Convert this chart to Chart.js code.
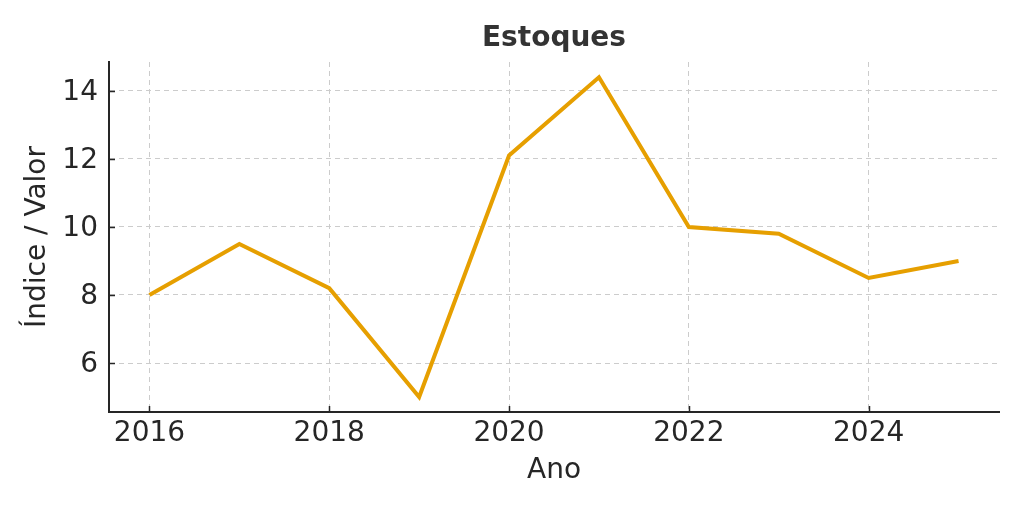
<!DOCTYPE html>
<html>
<head>
<meta charset="utf-8">
<script src="https://cdn.jsdelivr.net/npm/chart.js@4/dist/chart.umd.min.js"></script>
<style>
  html, body { margin: 0; padding: 0; background: #fff; }
  #wrap { width: 1024px; height: 512px; position: relative; }
</style>
</head>
<body>
<div id="wrap"><canvas id="myChart" width="1024" height="512"></canvas></div>
<script>
// Chart data
const chartTitle = 'Estoques';
const years = [2016, 2017, 2018, 2019, 2020, 2021, 2022, 2023, 2024, 2025];
const estoques = [8.0, 9.5, 8.2, 5.0, 12.1, 14.4, 10.0, 9.8, 8.5, 9.0];
const xTicks = [2016, 2018, 2020, 2022, 2024];
const yTicks = [6, 8, 10, 12, 14];

const textColor = '#262626';
const fontFamily = "'DejaVu Sans', 'Noto Sans', sans-serif";

// Title centred over the plot area + inward tick marks (matplotlib look)
const decorPlugin = {
    id: 'decor',
    afterDraw(chart) {
        const c = chart.ctx;
        const area = chart.chartArea;
        const xs = chart.scales.x;
        const ys = chart.scales.y;
        c.save();
        c.strokeStyle = '#262626';
        c.lineWidth = 1.5;
        xs.ticks.forEach(t => {
            const px = Math.round(xs.getPixelForValue(t.value)) + 0.5;
            c.beginPath();
            c.moveTo(px, area.bottom);
            c.lineTo(px, area.bottom - 6);
            c.stroke();
        });
        ys.ticks.forEach(t => {
            const py = Math.round(ys.getPixelForValue(t.value)) + 0.5;
            c.beginPath();
            c.moveTo(area.left, py);
            c.lineTo(area.left + 6, py);
            c.stroke();
        });
        c.fillStyle = '#333333';
        c.font = 'bold 28px ' + fontFamily;
        c.textAlign = 'center';
        c.textBaseline = 'middle';
        c.fillText(chartTitle, (area.left + area.right) / 2, 39);
        c.restore();
    }
};

const ctx = document.getElementById('myChart').getContext('2d');

const myChart = new Chart(ctx, {
    type: 'line',
    data: {
        datasets: [{
            label: chartTitle,
            data: years.map((y, i) => ({ x: y, y: estoques[i] })),
            borderColor: '#E69F00',
            borderWidth: 4,
            pointRadius: 0,
            fill: false,
            tension: 0
        }]
    },
    options: {
        responsive: false,
        animation: false,
        layout: { padding: { top: 62, right: 25, left: 0, bottom: 0 } },
        plugins: {
            legend: { display: false },
            tooltip: { enabled: false },
            title: { display: false }
        },
        scales: {
            x: {
                type: 'linear',
                min: 2015.55,
                max: 2025.45,
                afterBuildTicks: s => { s.ticks = xTicks.map(v => ({ value: v })); },
                afterFit: s => { s.height = 100; },
                ticks: {
                    color: textColor,
                    font: { family: fontFamily, size: 28 },
                    padding: 5,
                    callback: v => String(v)
                },
                grid: {
                    color: '#cccccc',
                    lineWidth: 1,
                    drawTicks: false
                },
                border: { display: true, color: '#262626', width: 2, dash: [5, 4] },
                title: {
                    display: true,
                    text: 'Ano',
                    color: textColor,
                    font: { family: fontFamily, size: 28 },
                    padding: { top: 0, bottom: 24 }
                }
            },
            y: {
                type: 'linear',
                min: 4.56,
                max: 14.85,
                afterBuildTicks: s => { s.ticks = yTicks.map(v => ({ value: v })); },
                afterFit: s => { s.width = 109; },
                ticks: {
                    color: textColor,
                    font: { family: fontFamily, size: 28 },
                    padding: 11,
                    labelOffset: 2
                },
                grid: {
                    color: '#cccccc',
                    lineWidth: 1,
                    drawTicks: false
                },
                border: { display: true, color: '#262626', width: 2, dash: [5, 4] },
                title: {
                    display: true,
                    text: 'Índice / Valor',
                    color: textColor,
                    font: { family: fontFamily, size: 28 },
                    padding: { top: 21, bottom: 0 }
                }
            }
        }
    },
    plugins: [decorPlugin]
});
</script>
</body>
</html>
